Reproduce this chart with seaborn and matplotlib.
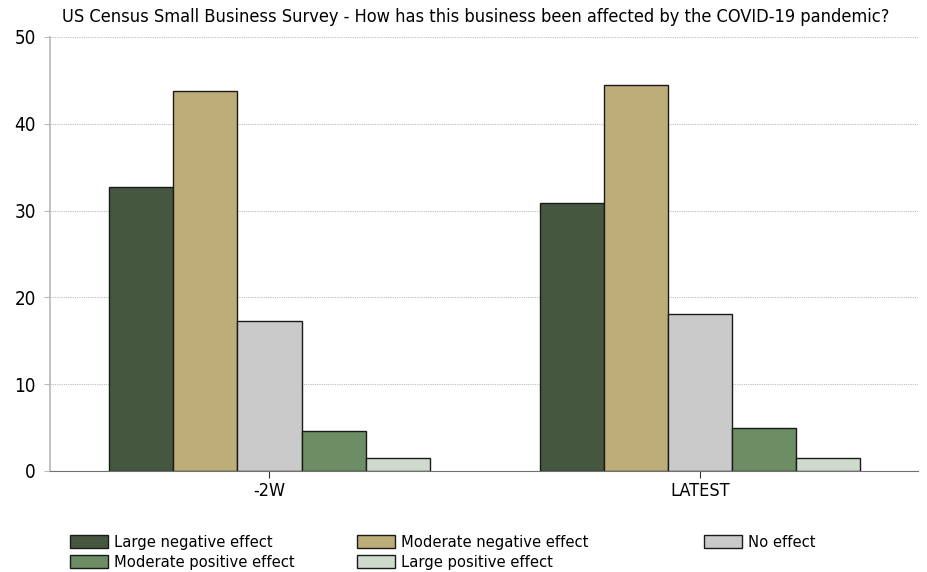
"""
US Census Small Business Survey - COVID-19 effect bar chart.
"""

import matplotlib

matplotlib.use("Agg")
import matplotlib.pyplot as plt
import pandas as pd
import seaborn as sns

PERIODS = ["-2W", "LATEST"]
EFFECTS = [
    "Large negative effect",
    "Moderate negative effect",
    "No effect",
    "Moderate positive effect",
    "Large positive effect",
]
VALUES_2W = [32.7, 43.8, 17.3, 4.6, 1.5]
VALUES_LATEST = [30.9, 44.5, 18.1, 5.0, 1.5]
COLORS = ["#465740", "#bdad78", "#cacaca", "#6d8d64", "#cedacc"]
Y_TICKS = [0, 10, 20, 30, 40, 50]

TITLE = "US Census Small Business Survey - How has this business been affected by the COVID-19 pandemic?"


def build_frame() -> pd.DataFrame:
    rows = []
    for period, values in zip(PERIODS, [VALUES_2W, VALUES_LATEST]):
        for effect, value in zip(EFFECTS, values):
            rows.append({"period": period, "effect": effect, "value": value})
    return pd.DataFrame(rows)


def main() -> None:
    sns.set_style("white")
    plt.rcParams["font.family"] = ["DejaVu Sans"]
    plt.rcParams["font.stretch"] = "condensed"
    plt.rcParams["text.color"] = "black"
    plt.rcParams["xtick.color"] = "black"
    plt.rcParams["ytick.color"] = "black"

    df = build_frame()

    fig = plt.figure(figsize=(9.28, 5.72), dpi=100)
    ax = fig.add_axes([50 / 928, 1 - 471 / 572, 868 / 928, 434 / 572])

    sns.barplot(
        data=df,
        x="period",
        y="value",
        hue="effect",
        hue_order=EFFECTS,
        palette=COLORS,
        width=0.745,
        edgecolor="#1a1a1a",
        linewidth=1,
        saturation=1,
        ax=ax,
    )

    ax.set_ylim(0, 50)
    ax.set_yticks(Y_TICKS)
    ax.set_xlim(-0.51, 1.507)
    ax.yaxis.grid(True, linestyle=(0, (1, 1)), color="#bdbdbd", linewidth=0.8)
    ax.set_axisbelow(True)
    for side in ["top", "right"]:
        ax.spines[side].set_visible(False)
    ax.spines["left"].set_color("#b8b8b8")
    ax.spines["left"].set_linewidth(1.2)
    ax.spines["bottom"].set_color("#707070")
    ax.tick_params(axis="y", left=True, length=4, color="#b8b8b8", labelsize=13.5, pad=6)
    ax.tick_params(axis="x", bottom=True, length=5, color="#333333", labelsize=13, pad=3)
    ax.set_xlabel("")
    ax.set_ylabel("")

    fig.text(62 / 928, 1 - 17 / 572, TITLE, fontsize=13.1, va="center", ha="left")

    handles, labels = ax.get_legend_handles_labels()
    ax.legend_.remove()
    columns = [([0, 3], 70), ([1, 4], 357), ([2], 704)]
    for idx, x0 in columns:
        fig.legend(
            [handles[i] for i in idx],
            [labels[i] for i in idx],
            loc="upper left",
            bbox_to_anchor=(x0 / 928, 1 - 535 / 572),
            frameon=False,
            fontsize=11.8,
            handlelength=2.3,
            handleheight=0.85,
            handletextpad=0.4,
            labelspacing=0.3,
            borderaxespad=0,
            borderpad=0,
        )

    fig.savefig("out.png", dpi=100)
    plt.close(fig)


if __name__ == "__main__":
    main()
